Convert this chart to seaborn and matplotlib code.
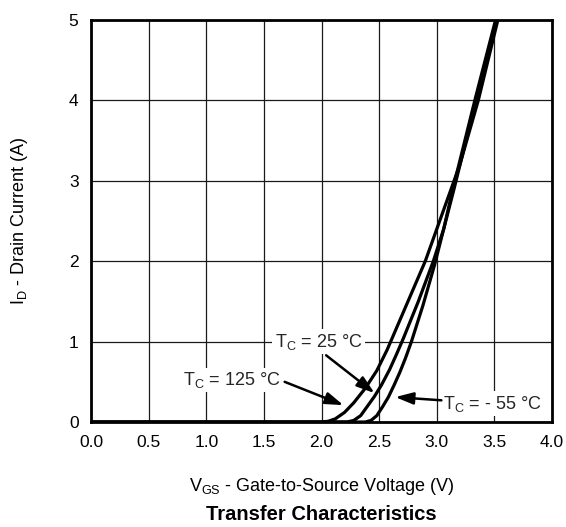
import matplotlib
matplotlib.use("Agg")
import matplotlib.pyplot as plt
import seaborn as sns
import pandas as pd

# ---- data ----
v_125 = [0.0, 2.00, 2.06, 2.12, 2.20, 2.28, 2.38, 2.48, 2.57, 2.66, 2.78, 2.90, 3.05, 3.20, 3.36, 3.53]
i_125 = [0.0, 0.00, 0.01, 0.04, 0.12, 0.24, 0.42, 0.64, 0.90, 1.20, 1.60, 2.00, 2.60, 3.20, 4.00, 5.00]

v_25 = [0.0, 2.22, 2.28, 2.34, 2.40, 2.46, 2.52, 2.59, 2.65, 2.71, 2.84, 2.97, 3.06, 3.15, 3.34, 3.52]
i_25 = [0.0, 0.00, 0.02, 0.08, 0.20, 0.32, 0.46, 0.65, 0.84, 1.04, 1.50, 2.00, 2.40, 2.90, 4.00, 5.00]

v_m55 = [0.0, 2.38, 2.43, 2.48, 2.53, 2.58, 2.63, 2.68, 2.73, 2.78, 2.88, 2.98, 3.06, 3.14, 3.33, 3.51]
i_m55 = [0.0, 0.00, 0.02, 0.08, 0.19, 0.31, 0.46, 0.62, 0.80, 1.00, 1.45, 1.95, 2.40, 2.90, 4.00, 5.00]

x_ticks = [0.0, 0.5, 1.0, 1.5, 2.0, 2.5, 3.0, 3.5, 4.0]
x_tick_labels = ["0.0", "0.5", "1.0", "1.5", "2.0", "2.5", "3.0", "3.5", "4.0"]
y_ticks = [0, 1, 2, 3, 4, 5]
y_tick_labels = ["0", "1", "2", "3", "4", "5"]

series = ["125", "25", "-55"]

frames = []
for name, v, i in [("125", v_125, i_125), ("25", v_25, i_25), ("-55", v_m55, i_m55)]:
    frames.append(pd.DataFrame({"V": v, "I": i, "T": name}))
df = pd.concat(frames, ignore_index=True)

sns.set_theme(style="white")
plt.rcParams["font.family"] = ["Liberation Sans", "DejaVu Sans"]
plt.rcParams["mathtext.fontset"] = "custom"
plt.rcParams["mathtext.rm"] = "Liberation Sans"

fig = plt.figure(figsize=(5.66, 5.27), dpi=100)
ax = fig.add_axes([0.1608, 0.1992, 0.9753 - 0.1608, 0.962 - 0.1992])

sns.lineplot(data=df, x="V", y="I", hue="T", units="T", estimator=None, sort=False,
             palette={s: "black" for s in series}, linewidth=2.3, legend=False, ax=ax,
             zorder=3)
for ln in ax.lines:
    ln.set_solid_joinstyle("round")
    ln.set_solid_capstyle("butt")

ax.set_xlim(0, 4)
ax.set_ylim(0, 5)
ax.set_xticks(x_ticks)
ax.set_xticklabels(x_tick_labels)
ax.set_yticks(y_ticks)
ax.set_yticklabels(y_tick_labels)
ax.tick_params(axis="both", length=0, labelsize=12.5, colors="black")
ax.tick_params(axis="x", pad=9)
ax.tick_params(axis="y", pad=9)

ax.grid(True, color="#1a1a1a", linewidth=0.9)
ax.set_axisbelow(True)
for sp in ax.spines.values():
    sp.set_visible(True)
    sp.set_color("black")
    sp.set_linewidth(2.0)

ax.set_xlabel(r"V$_\mathregular{GS}$ - Gate-to-Source Voltage (V)", fontsize=13, color="black", labelpad=19)
ax.set_ylabel(r"I$_\mathregular{D}$ - Drain Current (A)", fontsize=13, color="black", labelpad=28)

fig.text(0.5685, 0.024, "Transfer Characteristics", ha="center", va="center",
         fontsize=14.5, fontweight="bold", color="black")

box = dict(facecolor="white", edgecolor="none", pad=1.5)
arrow = dict(arrowstyle="-|>,head_length=0.9,head_width=0.3", color="black", lw=1.8,
             shrinkA=0, shrinkB=0)

ax.text(1.974, 1.0, r"T$_\mathregular{C}$ = 25 °C", ha="center", va="center",
        fontsize=13, bbox=box, zorder=4)
ax.annotate("", xy=(2.46, 0.36), xytext=(2.04, 0.83), arrowprops=arrow, zorder=4)

ax.text(1.22, 0.52, r"T$_\mathregular{C}$ = 125 °C", ha="center", va="center",
        fontsize=13, bbox=box, zorder=4)
ax.annotate("", xy=(2.19, 0.21), xytext=(1.68, 0.50), arrowprops=arrow, zorder=4)

ax.text(3.48, 0.23, r"T$_\mathregular{C}$ = - 55 °C", ha="center", va="center",
        fontsize=13, bbox=box, zorder=4)
ax.annotate("", xy=(2.64, 0.31), xytext=(3.04, 0.27), arrowprops=arrow, zorder=4)

fig.savefig("out.png", dpi=100)
